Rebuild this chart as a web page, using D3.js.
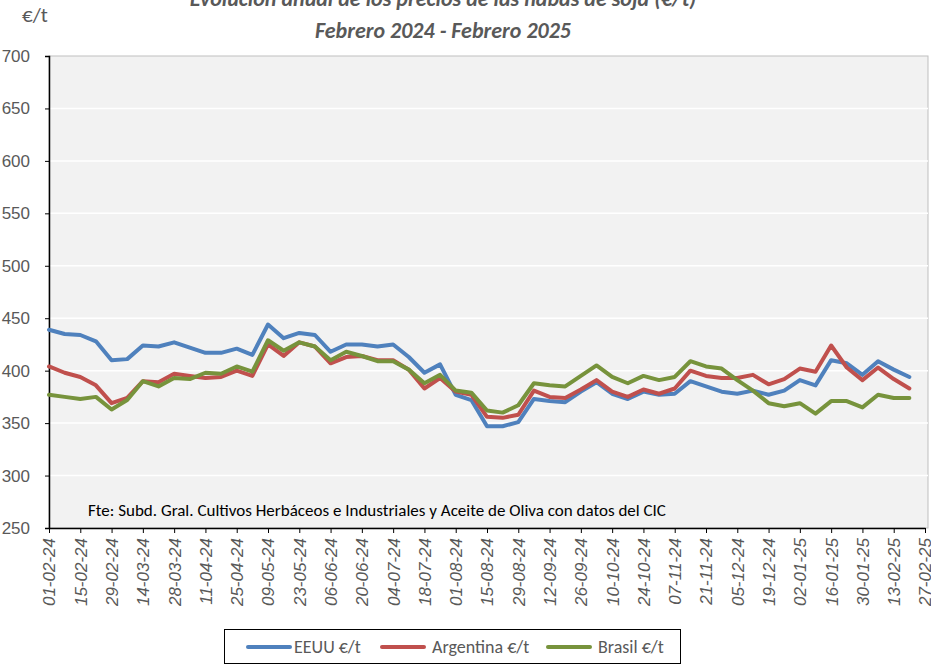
<!DOCTYPE html>
<html>
<head>
<meta charset="utf-8">
<script src="https://cdn.jsdelivr.net/npm/d3@7"></script>
<style>
  body { margin: 0; background: #fff; }
  svg { display: block; font-family: Carlito, Calibri, Lato, "Open Sans", sans-serif; }
</style>
</head>
<body>
<svg id="chart" width="931" height="664"></svg>
<script>
// weekly prices, from 01-02-24 to 20-02-25
const startDate = "01-02-24"
const tickLabels = ["01-02-24","15-02-24","29-02-24","14-03-24","28-03-24","11-04-24","25-04-24","09-05-24","23-05-24","06-06-24","20-06-24","04-07-24","18-07-24","01-08-24","15-08-24","29-08-24","12-09-24","26-09-24","10-10-24","24-10-24","07-11-24","21-11-24","05-12-24","19-12-24","02-01-25","16-01-25","30-01-25","13-02-25","27-02-25"]

const eeuu = [439,435,434,428,410,411,424,423,427,422,417,417,421,415,444,431,436,434,418,425,425,423,425,413,398,406,377,372,347,347,351,373,371,370,380,389,378,373,380,377,378,390,385,380,378,381,377,381,391,386,410,407,396,409,401,394]
const argentina = [404,398,394,386,369,374,390,389,397,395,393,394,400,395,425,414,427,423,407,413,414,410,410,401,383,393,380,377,356,355,358,381,375,374,382,391,380,375,382,378,383,400,395,393,393,396,387,392,402,399,424,403,391,403,392,383]
const brasil = [377,375,373,375,363,372,390,385,393,392,398,397,404,399,429,419,427,423,410,418,414,409,409,401,388,396,381,379,362,360,367,388,386,385,395,405,394,388,395,391,394,409,404,402,391,381,369,366,369,359,371,371,365,377,374,374]

const seriesNames = ["EEUU €/t", "Argentina €/t", "Brasil €/t"]
const seriesColors = ["#4F81BD", "#C0504D", "#77933C"]
const yTicks = [250,300,350,400,450,500,550,600,650,700]

const parse = d3.timeParse("%d-%m-%y")
const t0 = parse(startDate)
const dates = eeuu.map((d, i) => d3.timeDay.offset(t0, i * 7))
const series = [eeuu, argentina, brasil]

const svg = d3.select("#chart")
const plotLeft = 49, plotRight = 928, plotTop = 56, plotBottom = 528

const x = d3.scaleTime()
    .domain([parse(tickLabels[0]), parse(tickLabels[tickLabels.length - 1])])
    .range([plotLeft, 925])
const y = d3.scaleLinear().domain([250, 700]).range([plotBottom, plotTop])

// plot area
svg.append("rect")
    .attr("x", plotLeft).attr("y", plotTop)
    .attr("width", plotRight - plotLeft).attr("height", plotBottom - plotTop)
    .attr("fill", "#F2F2F2")
    .attr("stroke", "#BFBFBF")
    .attr("stroke-width", 1)

// gridlines
svg.append("g")
    .selectAll("line")
    .data(yTicks.filter(d => d > 250 && d < 700))
    .join("line")
    .attr("x1", plotLeft).attr("x2", plotRight)
    .attr("y1", d => y(d)).attr("y2", d => y(d))
    .attr("stroke", "#fff").attr("stroke-width", 1.5)

// y axis
const yAxis = svg.append("g")
    .attr("transform", `translate(${plotLeft},0)`)
    .call(d3.axisLeft(y).tickValues(yTicks).tickSize(4).tickPadding(15))
yAxis.select(".domain").attr("stroke", "#000").attr("stroke-width", 1.5)
yAxis.selectAll(".tick line").attr("stroke", "#000")
yAxis.selectAll("text").attr("fill", "#595959").attr("font-size", 17)

// x axis
const xAxis = svg.append("g")
    .attr("transform", `translate(0,${plotBottom})`)
    .call(d3.axisBottom(x)
        .tickValues(tickLabels.map(parse))
        .tickFormat(d3.timeFormat("%d-%m-%y"))
        .tickSize(5)
        .tickSizeOuter(0))
xAxis.select(".domain").attr("stroke", "#000").attr("stroke-width", 1.5)
xAxis.selectAll(".tick line").attr("stroke", "#000")
xAxis.selectAll("text")
    .attr("fill", "#595959")
    .attr("font-size", 17)
    .attr("font-style", "italic")
    .attr("text-anchor", "end")
    .attr("transform", "rotate(-90)")
    .attr("x", -10)
    .attr("y", 0)
    .attr("dy", "0.35em")

// lines
const line = d3.line()
    .x((d, i) => x(dates[i]))
    .y(d => y(d))

svg.append("g")
    .selectAll("path")
    .data(series)
    .join("path")
    .attr("d", d => line(d))
    .attr("fill", "none")
    .attr("stroke", (d, i) => seriesColors[i])
    .attr("stroke-width", 4)
    .attr("stroke-linejoin", "round")
    .attr("stroke-linecap", "round")

// source note
svg.append("text")
    .attr("x", 88).attr("y", 516)
    .attr("font-size", 17)
    .attr("fill", "#000")
    .text("Fte: Subd. Gral. Cultivos Herbáceos e Industriales y Aceite de Oliva con datos del CIC")

// titles
svg.append("text")
    .attr("x", 443).attr("y", 6)
    .attr("text-anchor", "middle")
    .attr("font-size", 22).attr("font-weight", "bold").attr("font-style", "italic")
    .attr("fill", "#595959")
    .text("Evolución anual de los precios de las habas de soja (€/t)")
svg.append("text")
    .attr("x", 443).attr("y", 38)
    .attr("text-anchor", "middle")
    .attr("font-size", 22).attr("font-weight", "bold").attr("font-style", "italic")
    .attr("fill", "#595959")
    .text("Febrero 2024 - Febrero 2025")

svg.append("text")
    .attr("x", 22).attr("y", 22)
    .attr("font-size", 21)
    .attr("fill", "#595959")
    .text("€/t")

// legend
const legend = svg.append("g")
legend.append("rect")
    .attr("x", 224.5).attr("y", 629.5)
    .attr("width", 456).attr("height", 34)
    .attr("fill", "#fff")
    .attr("stroke", "#000")
const legendX = [248, 382, 548]
const items = legend.selectAll("g")
    .data(seriesNames)
    .join("g")
    .attr("transform", (d, i) => `translate(${legendX[i]},647)`)
items.append("line")
    .attr("x1", 0).attr("x2", 42)
    .attr("stroke", (d, i) => seriesColors[i])
    .attr("stroke-width", 4)
    .attr("stroke-linecap", "round")
items.append("text")
    .attr("x", (d, i) => i === 0 ? 46 : 50)
    .attr("dy", "0.35em")
    .attr("font-size", 18)
    .attr("fill", "#595959")
    .text(d => d)
</script>
</body>
</html>
